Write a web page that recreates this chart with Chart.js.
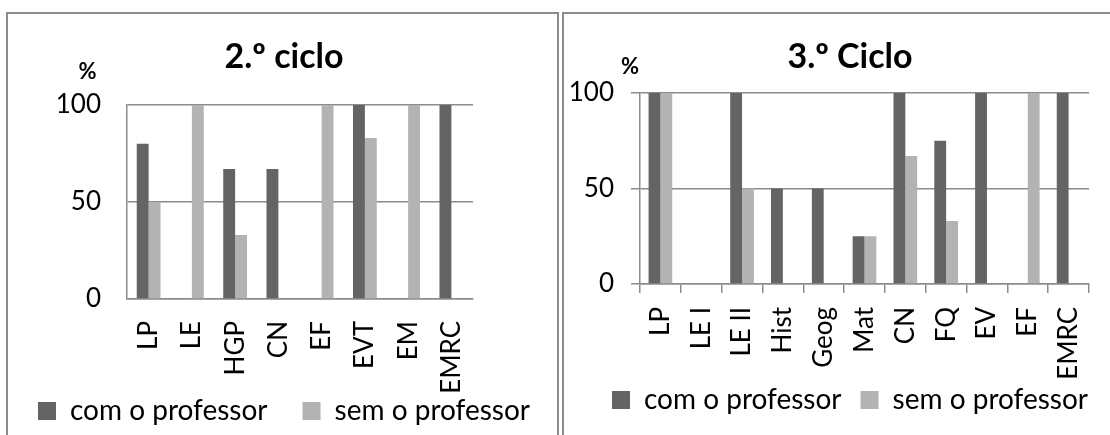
<!DOCTYPE html>
<html>
<head>
<meta charset="utf-8">
<script src="https://cdn.jsdelivr.net/npm/chart.js@4.4.1/dist/chart.umd.min.js"></script>
<style>
  body { margin: 0; background: #fff; width: 1110px; height: 435px; overflow: hidden; position: relative; }
  .panel { position: absolute; border: 2px solid #8c8c8c; box-sizing: border-box; }
  #p1 { left: 6px; top: 12px; width: 553px; height: 450px; }
  #p2 { left: 562px; top: 12px; width: 580px; height: 450px; }
  canvas { position: absolute; }
  #c1 { left: -3px; top: 14px; }
  #c2 { left: 564px; top: 14px; }
</style>
</head>
<body>
<div class="panel" id="p1"></div>
<div class="panel" id="p2"></div>
<canvas id="c1" width="574" height="421"></canvas>
<canvas id="c2" width="572" height="421"></canvas>
<script>
// dados (%)
const seriesNames = ["com o professor", "sem o professor"];
const yTicks = [0, 50, 100];

const ciclo2Labels = ["LP", "LE", "HGP", "CN", "EF", "EVT", "EM", "EMRC"];
const ciclo2Com = [80, 0, 67, 67, 0, 100, 0, 100];
const ciclo2Sem = [50, 100, 33, 0, 100, 83, 100, 0];

const ciclo3Labels = ["LP", "LE I", "LE II", "Hist", "Geog", "Mat", "CN", "FQ", "EV", "EF", "EMRC"];
const ciclo3Com = [100, 0, 100, 50, 50, 25, 100, 75, 100, 0, 100];
const ciclo3Sem = [100, 0, 50, 0, 0, 25, 67, 33, 0, 100, 0];

const FONT = "Lato";
const GRID = "#8c8c8c";

// desenha o "%" por cima do eixo y
const pctLabel = {
  id: "pctLabel",
  afterDraw(chart, args, opts) {
    const { ctx, chartArea } = chart;
    ctx.save();
    ctx.font = "bold 22px " + FONT;
    ctx.fillStyle = "#000";
    ctx.textAlign = "center";
    ctx.textBaseline = "middle";
    ctx.fillText("%", chartArea.left + opts.dx, chartArea.top + opts.dy);
    ctx.restore();
  }
};

function makeChart(id, title, labels, com, sem, cfg) {
  return new Chart(document.getElementById(id), {
    type: "bar",
    data: {
      labels: labels,
      datasets: [
        { label: seriesNames[0], data: com, backgroundColor: "#646464" },
        { label: seriesNames[1], data: sem, backgroundColor: "#b3b3b3" },
      ],
    },
    plugins: [pctLabel],
    options: {
      responsive: false,
      animation: false,
      categoryPercentage: cfg.catPct,
      barPercentage: 1,
      layout: { padding: { top: 0, right: 0, bottom: cfg.padBottom, left: 0 } },
      scales: {
        y: {
          min: 0,
          max: 100,
          afterBuildTicks: (s) => { s.ticks = yTicks.map((v) => ({ value: v })); },
          afterFit: (s) => { s.width = cfg.yWidth; },
          grid: { color: GRID, lineWidth: 1.5, drawTicks: cfg.yTickLen > 0, tickLength: cfg.yTickLen },
          border: { color: GRID, width: 1.5 },
          ticks: { color: "#000", font: { family: FONT, size: 26 }, padding: cfg.yPad },
        },
        // eixo vazio só para reservar a margem direita
        spacer: {
          type: "linear",
          position: "right",
          grid: { display: false },
          border: { display: false },
          ticks: { display: false },
          afterFit: (s) => { s.width = cfg.rightGap; },
        },
        x: {
          afterFit: (s) => {
            s.height = cfg.xHeight;
            // os rótulos passam por baixo da legenda, não cortar
            s._computeLabelArea = () => undefined;
          },
          grid: { display: cfg.xTickLen > 0, drawOnChartArea: false, color: GRID, lineWidth: 1.5, tickLength: cfg.xTickLen },
          border: { color: GRID, width: 1.5 },
          ticks: {
            color: "#000",
            font: { family: FONT, size: 26 },
            minRotation: 90,
            maxRotation: 90,
            autoSkip: false,
            padding: cfg.xPad,
          },
        },
      },
      plugins: {
        title: {
          display: true,
          text: title,
          color: "#000",
          font: { family: FONT, size: 34, weight: "bold" },
          padding: { top: 22.6, bottom: cfg.titleBottom },
        },
        legend: {
          position: "bottom",
          labels: { color: "#000", font: { family: FONT, size: 28 }, boxWidth: 18, boxHeight: 18, padding: cfg.legendPad },
        },
        tooltip: { enabled: false },
        pctLabel: { dx: cfg.pctDx, dy: cfg.pctDy },
      },
    },
  });
}

makeChart("c1", "2.º ciclo", ciclo2Labels, ciclo2Com, ciclo2Sem, {
  catPct: 0.55, rightGap: 98, padBottom: 0, yWidth: 130, yPad: 26, yTickLen: 0,
  xHeight: 63, xTickLen: 0, xPad: 22, titleBottom: 27.6, legendPad: 35, pctDx: -39.5, pctDy: -33.5,
});

makeChart("c2", "3.º Ciclo", ciclo3Labels, ciclo3Com, ciclo3Sem, {
  catPct: 0.58, rightGap: 47, padBottom: 11, yWidth: 76, yPad: 17, yTickLen: 9,
  xHeight: 83, xTickLen: 9, xPad: 14, titleBottom: 15.6, legendPad: 19, pctDx: -10, pctDy: -26.5,
});
</script>
</body>
</html>
